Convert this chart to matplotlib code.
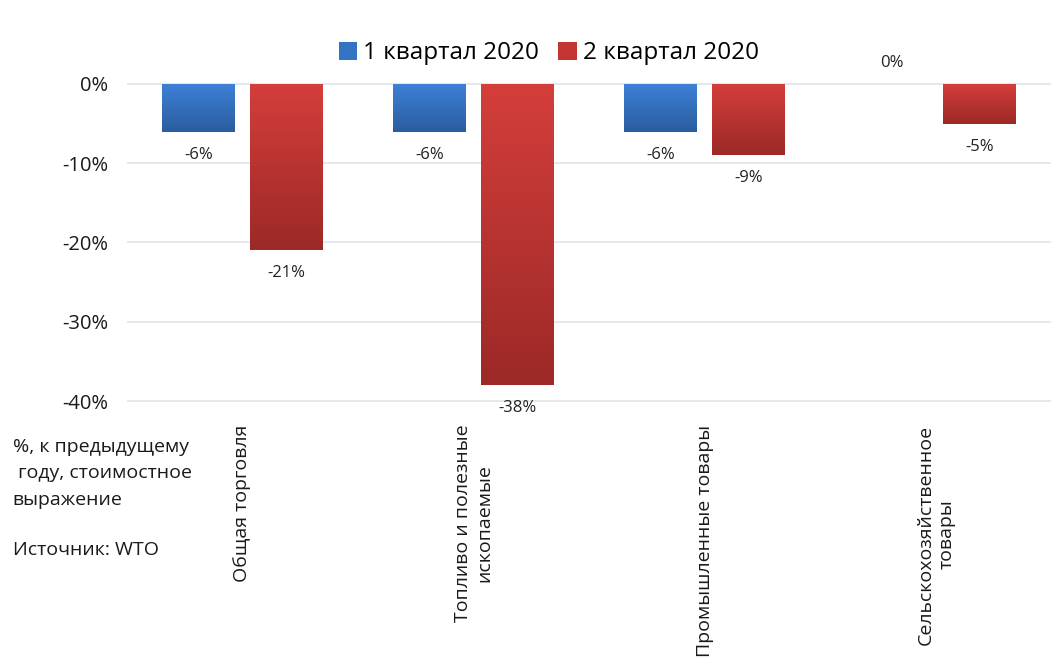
import numpy as np
import matplotlib
matplotlib.use('Agg')
import matplotlib.pyplot as plt
from matplotlib.colors import LinearSegmentedColormap

plt.rcParams['font.family'] = ['Open Sans', 'DejaVu Sans']

categories = ['Общая торговля', 'Топливо и полезные\nископаемые',
              'Промышленные товары', 'Сельскохозяйственное\nтовары']
series_names = ['1 квартал 2020', '2 квартал 2020']
q1_values = [-6, -6, -6, 0]
q2_values = [-21, -38, -9, -5]
y_ticks = [0, -10, -20, -30, -40]

colors = ['#3473c4', '#c33533']
grads = [('#3d80d6', '#2a5d9f'), ('#d43e3b', '#9c2927')]

fig = plt.figure(figsize=(10.51, 6.6), dpi=100)
ax = fig.add_axes([0.1205, 0.3864, 0.88, 0.4924])

x = np.arange(len(categories))
width = 0.315
offset = 0.19

for k, vals in enumerate([q1_values, q2_values]):
    pos = x + (-offset if k == 0 else offset)
    bars = ax.bar(pos, vals, width, color=colors[k], label=series_names[k], zorder=2)
    cmap = LinearSegmentedColormap.from_list('g%d' % k, grads[k])
    for b, v in zip(bars, vals):
        if v == 0:
            continue
        x0 = b.get_x()
        im = ax.imshow(np.linspace(0, 1, 100).reshape(-1, 1), cmap=cmap, aspect='auto',
                       extent=[x0, x0 + b.get_width(), v, 0], origin='upper', zorder=3)
        im.set_clip_path(b)
    for p, v in zip(pos, vals):
        if v == 0:
            ax.text(p, 2.6, f'{v}%', ha='center', va='center', fontsize=12, color='#222222')
        else:
            ax.text(p, v - 2.9, f'{v}%', ha='center', va='center', fontsize=12, color='#222222')

ax.set_xlim(-0.5, 3.5)
ax.set_ylim(-40.5, 0.5)
ax.set_yticks(y_ticks)
ax.set_yticklabels([f'{t}%' for t in y_ticks], fontsize=14.5, color='#1a1a1a')
ax.yaxis.grid(True, color='#dfe4ec', linewidth=1.2, zorder=0)
ax.set_axisbelow(True)
for s in ax.spines.values():
    s.set_visible(False)
ax.tick_params(axis='both', length=0)
ax.tick_params(axis='y', pad=13)
ax.set_xticks(x)
ax.set_xticklabels(categories, rotation=90, fontsize=14, color='#1a1a1a', va='top', ha='center',
                   multialignment='center')
ax.tick_params(axis='x', pad=14)

ax.legend(loc='upper center', bbox_to_anchor=(0.522, 0.985), bbox_transform=fig.transFigure,
          ncol=2, frameon=False, fontsize=17.5, handlelength=0.75, handleheight=0.75,
          handletextpad=0.25, columnspacing=0.8, borderaxespad=0.9)

fig.text(0.012, 0.283, '%, к предыдущему\n году, стоимостное\nвыражение', fontsize=14,
         color='#1a1a1a', va='center', ha='left', linespacing=1.6)
fig.text(0.012, 0.167, 'Источник: WTO', fontsize=14, color='#1a1a1a', va='center', ha='left')

fig.savefig('out.png', dpi=100)
